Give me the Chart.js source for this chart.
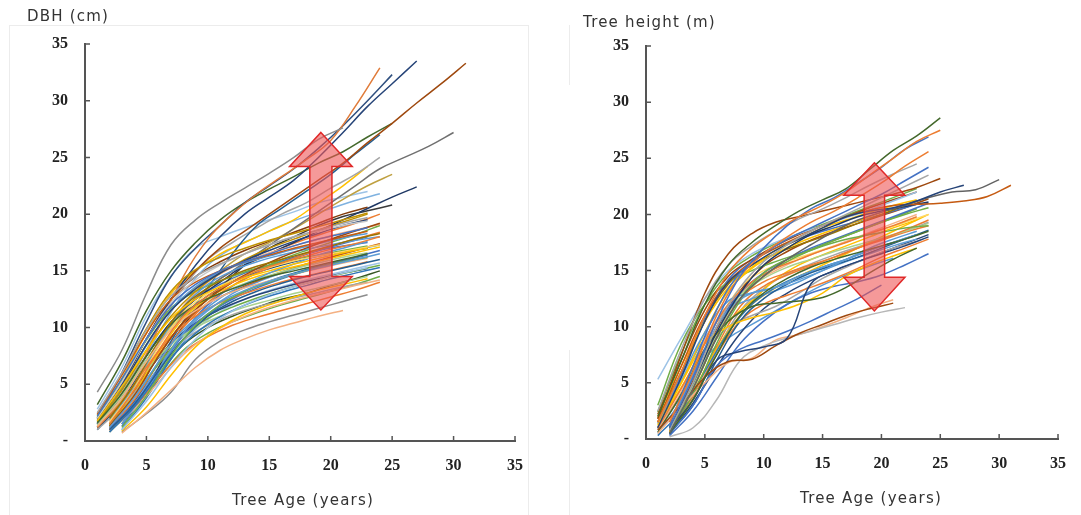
<!DOCTYPE html>
<html>
<head>
<meta charset="utf-8">
<script src="https://cdn.jsdelivr.net/npm/chart.js@4.4.1/dist/chart.umd.min.js"></script>
<style>
    body { margin: 0; background: #fff; }
    #wrap { position: relative; width: 1081px; height: 515px; overflow: hidden; }
    canvas { position: absolute; top: 0; }
    .axis-title {
        position: absolute;
        font-family: "DejaVu Sans", sans-serif;
        font-size: 15px;
        letter-spacing: 1.2px;
        line-height: 18px;
        color: #333;
        white-space: nowrap;
    }
    .frame { position: absolute; border: 1px solid #ececec; }
</style>
</head>
<body>
<div id="wrap">
    <div class="frame" style="left:9px; top:25px; width:518px; height:500px;"></div>
    <div class="frame" style="left:569px; top:25px; width:0; height:60px; border-width:0 0 0 1px;"></div>
    <div class="frame" style="left:569px; top:350px; width:0; height:170px; border-width:0 0 0 1px;"></div>
    <canvas id="dbhChart" width="540" height="515" style="left:0;"></canvas>
    <canvas id="heightChart" width="541" height="515" style="left:540px;"></canvas>
    <div class="axis-title" style="left:27px; top:7px;">DBH (cm)</div>
    <div class="axis-title" style="left:583px; top:13px;">Tree height (m)</div>
    <div class="axis-title" style="left:232px; top:491px;">Tree Age (years)</div>
    <div class="axis-title" style="left:800px; top:489px;">Tree Age (years)</div>
</div>
<script>
// Ages are sampled every 2 years from each tree's first measured age
const ageStep = 2;
const ageTicks = [0, 5, 10, 15, 20, 25, 30, 35];
const valueTicks = [0, 5, 10, 15, 20, 25, 30, 35];

// DBH (cm) growth curves
const dbhStartAge = [
    1, 2, 1, 2, 3, 1, 2, 1, 2, 3, 1, 2, 1, 2, 1, 2, 3, 1, 2, 1, 2, 3, 1, 2, 1, 2, 1, 2,
    1, 2, 1, 2, 3, 1, 2, 1, 2, 1, 3, 2,
    1, 2, 1, 1, 1, 2, 1, 3, 1, 2, 2, 1, 1, 2, 1, 2, 1, 2, 1, 1, 2, 2, 3, 3, 2
];
const dbhCurves = [
    [2.2, 5.5, 9.0, 12.0, 13.8, 15.0, 15.8, 16.5, 17.2, 17.8, 18.3, 18.8],
    [1.5, 4.5, 8.0, 11.0, 12.8, 14.0, 15.0, 15.7, 16.3, 16.9, 17.4, 18.0],
    [1.8, 4.8, 8.0, 10.8, 12.5, 13.6, 14.4, 15.0, 15.6, 16.1, 16.6, 17.0],
    [1.2, 3.8, 7.0, 9.8, 11.6, 12.8, 13.7, 14.4, 15.0, 15.5, 16.0, 16.5],
    [1.2, 4.0, 7.5, 10.2, 12.0, 13.2, 14.0, 14.7, 15.3, 15.8, 16.2],
    [2.5, 6.0, 9.8, 12.8, 14.5, 15.6, 16.5, 17.3, 18.0, 18.6, 19.2, 19.7],
    [1.0, 3.2, 6.2, 9.0, 11.0, 12.3, 13.2, 13.9, 14.5, 15.0, 15.5, 16.0],
    [1.3, 3.8, 7.0, 9.8, 11.5, 12.7, 13.5, 14.1, 14.7, 15.2, 15.7, 16.1],
    [2.0, 5.0, 8.8, 11.8, 13.5, 14.6, 15.4, 16.0, 16.6, 17.2, 17.8, 18.3],
    [1.0, 3.5, 6.5, 9.0, 10.8, 12.0, 12.9, 13.6, 14.2, 14.8, 15.3],
    [1.6, 4.2, 7.5, 10.3, 12.0, 13.0, 13.8, 14.5, 15.0, 15.5, 16.0, 16.5],
    [1.3, 4.0, 7.5, 10.5, 12.5, 14.0, 15.2, 16.2, 17.0, 17.8, 18.5, 19.2],
    [2.0, 5.2, 9.0, 12.2, 14.2, 15.5, 16.5, 17.3, 18.0, 18.5, 19.0, 19.4],
    [0.8, 3.0, 5.8, 8.5, 10.3, 11.5, 12.4, 13.1, 13.7, 14.3, 14.8, 15.3],
    [1.2, 3.5, 6.5, 9.2, 11.0, 12.2, 13.0, 13.7, 14.3, 14.8, 15.3, 15.8],
    [1.7, 4.6, 8.3, 11.3, 13.0, 14.2, 15.0, 15.6, 16.1, 16.5, 16.9, 17.3],
    [1.5, 4.5, 8.0, 10.8, 12.6, 13.8, 14.8, 15.6, 16.4, 17.0, 17.6],
    [1.4, 3.6, 6.2, 8.5, 10.0, 11.0, 11.8, 12.4, 13.0, 13.5, 14.0, 14.5],
    [1.1, 3.3, 6.3, 9.3, 11.2, 12.5, 13.5, 14.3, 15.0, 15.6, 16.2, 16.8],
    [2.4, 5.8, 9.5, 12.5, 14.0, 15.0, 15.8, 16.4, 17.0, 17.5, 18.0, 18.5],
    [1.4, 3.9, 6.8, 9.3, 10.8, 11.8, 12.6, 13.3, 13.9, 14.5, 15.0, 15.5],
    [0.9, 3.0, 5.8, 8.3, 10.0, 11.2, 12.0, 12.7, 13.3, 13.8, 14.3],
    [1.9, 4.8, 8.5, 11.5, 13.4, 14.8, 15.9, 16.8, 17.6, 18.3, 19.0, 19.5],
    [0.9, 2.8, 5.2, 7.6, 9.3, 10.5, 11.4, 12.1, 12.7, 13.2, 13.7, 14.2],
    [1.7, 4.5, 8.0, 11.0, 13.2, 14.8, 16.0, 17.0, 17.8, 18.6, 19.3, 20.0],
    [1.8, 4.8, 8.6, 11.8, 13.8, 15.0, 15.8, 16.4, 16.9, 17.3, 17.7, 18.0],
    [1.0, 3.0, 5.5, 8.0, 9.6, 10.7, 11.5, 12.1, 12.6, 13.1, 13.6, 14.0],
    [1.0, 3.0, 5.5, 7.8, 9.2, 10.2, 10.9, 11.5, 12.1, 12.7, 13.3, 14.0],
    [1.6, 4.6, 8.4, 11.6, 13.6, 14.9, 15.7, 16.3, 16.9, 17.4, 17.9, 18.3],
    [1.3, 4.2, 7.8, 10.8, 12.6, 13.7, 14.5, 15.1, 15.6, 16.1, 16.6, 17.1],
    [2.1, 5.3, 8.9, 11.7, 13.2, 14.1, 14.9, 15.5, 16.0, 16.4, 16.8, 17.2],
    [1.1, 3.6, 6.9, 10.0, 12.2, 13.7, 14.8, 15.7, 16.5, 17.2, 17.8, 18.4],
    [1.3, 4.3, 7.9, 10.9, 12.9, 14.3, 15.3, 16.1, 16.8, 17.4, 18.0],
    [1.4, 4.0, 7.2, 10.0, 11.8, 13.0, 13.9, 14.6, 15.2, 15.7, 16.2, 16.6],
    [1.6, 4.9, 8.7, 11.9, 14.0, 15.3, 16.2, 16.9, 17.5, 18.1, 18.6, 19.1],
    [1.2, 3.4, 6.0, 8.6, 10.4, 11.6, 12.5, 13.2, 13.8, 14.3, 14.8, 15.2],
    [0.9, 3.1, 6.0, 8.8, 10.7, 12.0, 12.9, 13.6, 14.2, 14.7, 15.2, 15.7],
    [2.3, 5.9, 9.9, 13.2, 15.1, 16.2, 17.0, 17.7, 18.3, 18.9, 19.5, 20.1],
    [1.0, 3.8, 7.2, 10.0, 11.9, 13.2, 14.1, 14.8, 15.4, 15.9, 16.4],
    [1.5, 4.3, 7.6, 10.4, 12.1, 13.2, 14.1, 14.9, 15.6, 16.2, 16.8, 17.4],
    [4.3, 8.0, 13.0, 17.3, 19.5, 21.0, 22.3, 23.6, 25.0, 26.6, 27.6],
    [2.0, 5.5, 10.0, 14.5, 17.8, 20.0, 21.8, 23.3, 24.8, 26.5, 29.5, 32.9],
    [1.5, 5.0, 9.0, 12.5, 15.5, 18.0, 20.0, 21.5, 23.0, 25.0, 27.2, 29.5, 31.5, 33.5],
    [2.0, 6.0, 10.5, 14.5, 17.0, 19.0, 21.0, 22.5, 24.0, 25.8, 27.8, 30.0, 32.3],
    [1.8, 5.0, 9.0, 12.5, 15.0, 17.0, 18.5, 20.0, 21.5, 23.0, 24.5, 26.3, 28.0, 29.8, 31.5, 33.3],
    [1.5, 4.5, 8.5, 11.5, 13.5, 15.0, 16.5, 18.0, 19.5, 21.0, 22.5, 24.0, 25.0, 26.0, 27.2],
    [1.2, 4.0, 7.5, 10.5, 12.5, 14.0, 15.5, 16.5, 17.5, 18.5, 19.5, 20.5, 21.5, 22.4],
    [1.5, 4.5, 8.5, 11.5, 13.5, 15.5, 17.0, 18.0, 19.0, 19.8, 20.3, 20.8],
    [3.2, 7.0, 11.5, 15.0, 17.5, 19.5, 21.0, 22.2, 23.3, 24.5, 25.5, 26.8, 28.0],
    [1.0, 3.5, 7.0, 10.5, 13.5, 16.5, 19.0, 20.5, 22.0, 23.5, 25.3, 27.0],
    [2.5, 6.0, 10.0, 13.5, 16.0, 17.5, 18.8, 20.0, 21.0, 22.3, 23.5, 25.0],
    [2.0, 5.5, 9.5, 13.0, 15.0, 16.5, 17.5, 18.5, 19.5, 21.0, 22.5, 24.2],
    [1.5, 4.5, 8.5, 11.5, 13.5, 15.0, 16.5, 17.5, 18.7, 20.0, 21.3, 22.5, 23.5],
    [2.0, 5.5, 9.5, 13.0, 15.5, 17.0, 18.0, 19.0, 19.8, 20.5, 21.2, 21.8],
    [2.8, 6.5, 11.0, 14.5, 17.0, 18.0, 18.8, 19.5, 20.2, 21.0, 21.5, 22.0],
    [1.5, 4.5, 8.5, 11.5, 13.5, 15.0, 16.0, 17.0, 17.8, 18.5, 19.2, 20.0],
    [2.0, 5.0, 9.0, 12.5, 14.5, 15.8, 16.8, 17.6, 18.4, 19.2, 20.0, 20.6],
    [1.2, 4.0, 7.5, 10.5, 12.5, 14.0, 15.0, 16.0, 16.8, 17.5, 18.2, 19.0],
    [1.5, 4.0, 7.5, 10.5, 12.5, 13.8, 14.8, 15.5, 16.2, 16.8, 17.2, 17.5],
    [1.0, 3.5, 7.0, 10.0, 12.0, 13.5, 14.5, 15.2, 15.8, 16.3, 16.7, 17.0],
    [1.0, 3.5, 6.5, 9.5, 11.5, 13.0, 14.0, 14.8, 15.5, 16.2, 16.8, 17.3],
    [0.8, 3.0, 6.0, 8.5, 10.0, 11.0, 11.8, 12.5, 13.0, 13.7, 14.3, 15.0],
    [0.7, 2.5, 4.5, 6.5, 8.0, 9.0, 9.8, 10.4, 11.0, 11.5],
    [0.8, 2.4, 4.3, 7.2, 8.8, 9.8, 10.5, 11.1, 11.7, 12.3, 12.9],
    [0.9, 3.0, 5.5, 8.0, 9.5, 10.5, 11.3, 12.0, 12.6, 13.2, 13.8, 14.5]
];
const dbhColors = [
    "#4472c4", "#ed7d31", "#ffc000", "#5b9bd5", "#70ad47", "#a5a5a5", "#255e91",
    "#f4b183", "#997300", "#9dc3e6", "#43682b", "#9e480e", "#c9c9c9", "#2e75b6",
    "#ed7d31", "#ffd966", "#5b9bd5", "#a9d18e", "#4472c4", "#c55a11", "#70ad47",
    "#ffc000", "#264478", "#f4b183", "#bf9000", "#5b9bd5", "#a5a5a5", "#ed7d31",
    "#5b9bd5", "#ffc000", "#70ad47", "#ed7d31", "#4472c4", "#a9d18e", "#f4b183",
    "#264478", "#9dc3e6", "#bf9000", "#2e75b6", "#c55a11",
    "#8c8c8c", "#e07b39", "#264478", "#2f4f7f", "#9e480e", "#707070", "#1f3864",
    "#3a3a3a", "#43682b", "#255e91", "#a5a5a5", "#ffc000", "#bfa040", "#7fb2e0",
    "#9dc3e6", "#ed7d31", "#843c0c", "#70ad47", "#4472c4", "#1f4e79", "#5b9bd5",
    "#375623", "#f4b183", "#8c8c8c", "#70ad47"
];

// Tree height (m) growth curves
const heightStartAge = [
    1, 1, 2, 2, 1, 2, 2, 1, 1, 2, 1, 2, 1, 1, 2, 2, 1, 1, 2, 1, 2, 1,
    2, 1, 1, 2, 1, 2, 1, 2, 1, 2, 1, 2, 1, 2, 1, 2, 1, 2, 1, 2, 1,
    1, 2, 1, 2, 1, 2, 1, 2
];
const heightCurves = [
    [2.0, 7.0, 12.0, 15.5, 17.5, 19.0, 20.3, 21.3, 22.3, 24.0, 25.7, 27.0, 28.6],
    [1.5, 6.0, 11.0, 14.8, 17.0, 18.5, 19.8, 20.8, 22.0, 23.5, 25.0, 26.5, 27.5],
    [1.0, 5.5, 10.5, 14.5, 17.0, 19.0, 20.5, 21.5, 22.8, 24.2, 25.8, 26.9],
    [1.5, 6.0, 11.0, 14.5, 16.5, 18.0, 19.3, 20.3, 21.5, 22.8, 24.3, 25.6],
    [2.5, 8.0, 12.5, 15.5, 17.2, 18.5, 19.6, 20.5, 21.5, 22.6, 23.6, 24.5],
    [1.2, 6.5, 11.5, 14.8, 16.5, 17.8, 18.8, 19.8, 20.8, 21.8, 23.0, 24.2],
    [0.8, 5.0, 10.0, 13.5, 15.8, 17.3, 18.5, 19.5, 20.5, 21.5, 22.5, 23.5],
    [1.8, 7.5, 13.0, 16.5, 18.3, 19.3, 19.8, 20.3, 20.8, 21.3, 21.8, 22.4, 23.2],
    [1.0, 5.5, 10.5, 14.0, 15.5, 16.8, 17.8, 18.8, 19.8, 20.3, 20.6, 21.2, 22.0, 22.6],
    [0.5, 4.5, 9.0, 12.5, 14.5, 16.0, 17.3, 18.5, 19.5, 20.2, 20.8, 21.5, 22.0, 22.2, 23.1],
    [1.5, 6.5, 11.0, 14.0, 15.8, 17.0, 18.0, 19.0, 19.8, 20.4, 20.8, 20.9, 21.0, 21.2, 21.6, 22.6],
    [1.0, 5.0, 9.5, 13.0, 15.5, 17.0, 18.2, 19.0, 19.8, 20.3, 20.7, 21.1],
    [5.3, 9.0, 12.5, 15.0, 16.5, 17.5, 18.3, 19.0, 19.7, 20.4, 21.2, 22.0],
    [2.0, 6.5, 10.5, 13.5, 15.3, 16.8, 17.8, 18.8, 19.5, 20.2, 20.8, 21.3],
    [0.8, 4.5, 9.0, 12.5, 14.8, 16.0, 16.8, 17.5, 18.0, 18.4, 18.8, 19.0],
    [0.5, 3.5, 7.5, 11.0, 13.0, 14.3, 15.3, 16.0, 16.6, 17.2, 17.8, 18.5],
    [1.0, 4.5, 8.5, 12.0, 14.0, 15.2, 16.0, 16.8, 17.5, 18.3, 19.0, 19.8],
    [1.5, 5.5, 9.5, 12.3, 13.0, 13.5, 14.5, 15.3, 16.0, 16.8, 17.5, 18.2],
    [0.8, 3.5, 7.0, 7.8, 8.2, 9.0, 13.8, 15.0, 15.8, 16.5, 17.2, 18.0],
    [0.8, 3.0, 5.5, 6.9, 7.1, 8.3, 9.4, 10.2, 11.0, 11.6, 12.1],
    [0.2, 1.0, 3.5, 7.0, 8.3, 9.0, 9.6, 10.2, 10.8, 11.3, 11.7],
    [0.5, 2.8, 5.0, 6.8, 7.2, 8.8, 9.3, 10.0, 10.8, 11.7, 12.4],
    [0.5, 3.0, 6.5, 8.0, 8.8, 9.6, 10.5, 11.5, 12.5, 13.7],
    [0.6, 4.0, 8.0, 10.5, 11.8, 12.1, 12.3, 12.6, 13.5, 14.8, 16.0, 17.0],
    [1.5, 5.0, 8.5, 10.0, 10.8, 11.3, 12.0, 13.0, 14.5, 15.5, 16.3, 17.0],
    [1.0, 4.5, 9.0, 12.5, 14.0, 14.8, 15.5, 16.2, 17.0, 17.8, 18.6, 19.5],
    [0.5, 3.5, 8.0, 11.5, 13.0, 13.5, 14.2, 15.0, 16.0, 17.0, 17.8, 18.5],
    [0.8, 4.0, 8.5, 12.3, 14.5, 15.8, 16.8, 17.7, 18.5, 19.3, 20.0, 20.6],
    [1.2, 5.0, 9.5, 13.2, 15.2, 16.5, 17.5, 18.3, 19.0, 19.8, 20.5, 21.2],
    [1.5, 5.5, 10.0, 13.0, 14.8, 16.0, 17.0, 17.8, 18.6, 19.4, 20.2, 21.0],
    [0.8, 4.2, 8.8, 12.0, 13.8, 15.0, 16.0, 16.8, 17.6, 18.4, 19.2, 20.0],
    [0.5, 3.0, 7.0, 10.5, 12.5, 13.8, 14.8, 15.5, 16.2, 17.0, 17.8, 18.6],
    [1.8, 6.0, 10.5, 13.8, 15.5, 16.5, 17.3, 18.0, 18.8, 19.6, 20.4, 21.2],
    [1.2, 4.8, 9.2, 12.8, 14.3, 15.3, 16.0, 16.7, 17.3, 17.9, 18.5, 19.2],
    [0.3, 2.5, 6.0, 9.5, 12.0, 13.5, 14.5, 15.3, 16.0, 16.8, 17.5, 18.2],
    [0.8, 3.8, 7.5, 10.5, 12.0, 12.8, 13.5, 14.3, 15.2, 16.2, 17.0, 17.8],
    [2.2, 7.0, 11.5, 14.5, 16.0, 17.2, 18.2, 19.0, 19.8, 20.6, 21.3, 22.0],
    [1.0, 5.0, 10.0, 13.5, 15.0, 15.8, 16.5, 17.2, 17.9, 18.6, 19.3, 20.0],
    [1.0, 4.0, 7.5, 10.0, 11.0, 11.8, 13.0, 14.3, 15.3, 16.2, 17.0, 17.6],
    [0.3, 2.5, 5.5, 8.5, 10.5, 12.0, 13.0, 13.6, 14.0, 14.6, 15.5, 16.5],
    [3.0, 8.5, 12.0, 14.0, 15.0, 15.8, 16.5, 17.3, 18.1, 18.9, 19.7, 20.5],
    [0.6, 4.2, 8.0, 11.0, 12.8, 14.0, 15.0, 16.0, 17.0, 18.0, 19.0, 20.0],
    [1.4, 5.2, 9.0, 11.5, 12.5, 13.2, 14.0, 15.0, 15.8, 16.5, 17.2, 17.8],
    [1.0, 5.8, 10.8, 14.2, 16.0, 17.0, 17.8, 18.5, 19.1, 19.7, 20.3, 20.9],
    [0.7, 4.0, 8.2, 11.8, 13.6, 14.6, 15.4, 16.2, 17.0, 17.7, 18.4, 19.0],
    [2.4, 7.6, 12.0, 14.8, 16.3, 17.4, 18.3, 19.1, 19.9, 20.7, 21.5, 22.3],
    [0.4, 3.2, 6.4, 9.4, 11.6, 13.0, 14.1, 15.0, 15.8, 16.6, 17.4, 18.2],
    [1.3, 4.6, 8.0, 10.5, 12.3, 14.2, 15.5, 16.4, 17.2, 18.0, 18.8, 19.5],
    [1.1, 5.2, 9.8, 13.2, 15.4, 16.7, 17.7, 18.5, 19.2, 19.9, 20.6, 21.4],
    [0.9, 3.8, 7.2, 9.0, 10.2, 11.4, 12.6, 13.7, 14.6, 15.4, 16.1],
    [0.6, 3.6, 7.8, 11.4, 13.4, 14.7, 15.6, 16.4, 17.1, 17.8, 18.5, 19.3]
];
const heightColors = [
    "#43682b", "#ed7d31", "#4472c4", "#ed7d31", "#a5a5a5", "#4472c4", "#a5a5a5",
    "#9e480e", "#264478", "#636363", "#c55a11", "#1f3864", "#9dc3e6", "#ffc000",
    "#70ad47", "#43682b", "#ed7d31", "#5b9bd5", "#264478", "#9e480e", "#b7b7b7",
    "#f4b183", "#4472c4", "#43682b", "#ffc000", "#ed7d31", "#5b9bd5", "#70ad47",
    "#ffc000", "#4472c4", "#f4b183", "#255e91", "#997300", "#a9d18e", "#2e75b6",
    "#ed7d31", "#9e480e", "#ffd966", "#a5a5a5", "#4472c4", "#70ad47", "#ffc000",
    "#5b9bd5",
    "#4472c4", "#ed7d31", "#70ad47", "#264478", "#ffc000", "#9e480e", "#5b9bd5",
    "#a5a5a5"
];

// The red double arrows, in axis units (age, value)
const dbhArrow = { age: 19.2, tip: 27.2, headTop: 24.2, headBottom: 14.5, tail: 11.55, headHalf: 2.55, shaftHalf: 0.9 };
const heightArrow = { age: 19.4, tip: 24.6, headTop: 21.7, headBottom: 14.4, tail: 11.4, headHalf: 2.6, shaftHalf: 0.87 };

const tickFont = { family: "'Liberation Serif', 'Times New Roman', serif", size: 16, weight: "bold" };

function buildDatasets(startAges, curves, colors) {
    return curves.map((values, i) => ({
        data: values.map((v, k) => ({ x: startAges[i] + k * ageStep, y: v })),
        borderColor: colors[i],
    }));
}

// Draw a translucent double-headed arrow on top of the lines
const doubleArrow = {
    id: "doubleArrow",
    afterDatasetsDraw(chart, args, opts) {
        const a = opts.arrow;
        if (!a) return;
        const { ctx, scales: { x, y } } = chart;
        const cx = x.getPixelForValue(a.age);
        const hw = x.getPixelForValue(a.age + a.headHalf) - cx;
        const sw = x.getPixelForValue(a.age + a.shaftHalf) - cx;
        const yTip = y.getPixelForValue(a.tip);
        const yHT = y.getPixelForValue(a.headTop);
        const yHB = y.getPixelForValue(a.headBottom);
        const yTail = y.getPixelForValue(a.tail);
        ctx.save();
        ctx.beginPath();
        ctx.moveTo(cx, yTip);
        ctx.lineTo(cx + hw, yHT);
        ctx.lineTo(cx + sw, yHT);
        ctx.lineTo(cx + sw, yHB);
        ctx.lineTo(cx + hw, yHB);
        ctx.lineTo(cx, yTail);
        ctx.lineTo(cx - hw, yHB);
        ctx.lineTo(cx - sw, yHB);
        ctx.lineTo(cx - sw, yHT);
        ctx.lineTo(cx - hw, yHT);
        ctx.closePath();
        ctx.fillStyle = "rgba(238, 85, 85, 0.6)";
        ctx.fill();
        ctx.lineWidth = 1.5;
        ctx.strokeStyle = "#e02828";
        ctx.stroke();
        ctx.restore();
    },
};

// Tick marks that point into the plot, as in the original figure
const innerTicks = {
    id: "innerTicks",
    afterDraw(chart) {
        const { ctx, chartArea: area, scales: { x, y } } = chart;
        ctx.save();
        ctx.strokeStyle = "#555";
        ctx.lineWidth = 1.5;
        ctx.beginPath();
        ageTicks.forEach((t) => {
            if (!t) return;
            const px = x.getPixelForValue(t);
            ctx.moveTo(px, area.bottom);
            ctx.lineTo(px, area.bottom - 5);
        });
        valueTicks.forEach((t) => {
            if (!t) return;
            const py = y.getPixelForValue(t);
            ctx.moveTo(area.left, py);
            ctx.lineTo(area.left + 5, py);
        });
        ctx.stroke();
        ctx.restore();
    },
};

function makeChart(canvasId, datasets, arrow, padding) {
    const ctx = document.getElementById(canvasId).getContext("2d");
    return new Chart(ctx, {
        type: "line",
        data: { datasets },
        plugins: [doubleArrow, innerTicks],
        options: {
            responsive: false,
            animation: false,
            devicePixelRatio: 1,
            layout: { padding },
            elements: {
                line: { borderWidth: 1.5, tension: 0.4, fill: false },
                point: { radius: 0 },
            },
            plugins: {
                legend: { display: false },
                tooltip: { enabled: false },
                doubleArrow: { arrow },
            },
            scales: {
                x: {
                    type: "linear",
                    min: 0,
                    max: 35,
                    afterFit: (s) => { s.height = 40; },
                    afterBuildTicks: (s) => { s.ticks = ageTicks.map((v) => ({ value: v })); },
                    grid: { display: false, drawTicks: false },
                    border: { display: true, color: "#555", width: 2 },
                    ticks: { padding: 15, font: tickFont, color: "#222", maxRotation: 0, autoSkip: false },
                },
                y: {
                    min: 0,
                    max: 35,
                    afterFit: (s) => { s.width = 60; },
                    afterBuildTicks: (s) => { s.ticks = valueTicks.map((v) => ({ value: v })); },
                    grid: { display: false, drawTicks: false },
                    border: { display: true, color: "#555", width: 2 },
                    ticks: {
                        padding: 17,
                        font: tickFont,
                        color: "#222",
                        autoSkip: false,
                        callback: (v) => (v === 0 ? "-" : v),
                    },
                },
            },
        },
    });
}

makeChart("dbhChart", buildDatasets(dbhStartAge, dbhCurves, dbhColors), dbhArrow,
    { left: 25, right: 25, top: 44, bottom: 34 });
makeChart("heightChart", buildDatasets(heightStartAge, heightCurves, heightColors), heightArrow,
    { left: 46, right: 11, top: 46, bottom: 36 });
</script>
</body>
</html>
